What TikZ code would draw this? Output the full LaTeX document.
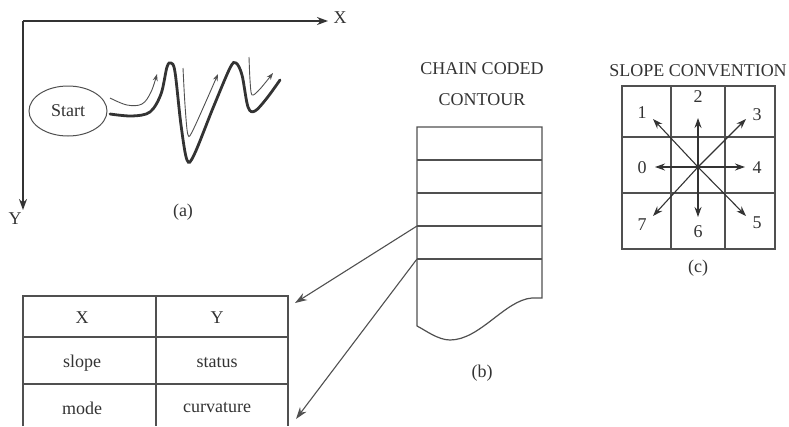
\documentclass[tikz,border=0pt]{standalone}
\usepackage{fontspec}
\setmainfont{Liberation Serif}
\usetikzlibrary{arrows.meta,shapes.geometric}
\definecolor{ink}{HTML}{333333}
\definecolor{linec}{HTML}{505050}
\tikzset{
  lbl/.style={inner sep=0pt, text=ink, font=\fontsize{18}{20}\selectfont},
  frame/.style={draw=linec, line width=1.2pt},
  bigarrow/.style={draw=ink, line width=1.4pt, -{Stealth[length=11pt,width=8pt]}},
  thinarrow/.style={draw=linec, line width=0.9pt, -{Stealth[length=7pt,width=5pt]}},
  conn/.style={draw=linec, line width=1.1pt, -{Stealth[length=12pt,width=8pt]}},
  sarrow/.style={draw=ink, line width=1.1pt, -{Stealth[length=10pt,width=7pt]}},
}
\begin{document}
\begin{tikzpicture}[x=1pt,y=-1pt]
\useasboundingbox (0,0) rectangle (789,426);
% ---------- (a) ----------
\coordinate (O) at (23,21);
\coordinate (Xend) at (328,21);
\coordinate (Yend) at (23,210);
\draw[bigarrow] (O) -- (Xend);
\draw[bigarrow] (O) -- (Yend);
\node[lbl] (xl) at (340,18) {X};
\node[lbl] (yl) at (15,219) {Y};
\node[draw=linec, line width=1pt, ellipse, minimum width=78pt, minimum height=50pt, inner sep=0pt, text=ink, font=\fontsize{18}{20}\selectfont] (start) at (68,111) {Start};
\draw[ink, line width=2.8pt, line cap=round] plot[smooth, tension=0.55] coordinates
  {(110,114) (132,116) (150,112) (161,94) (167,67) (171,63) (175,72) (181,125) (187,160) (194,155) (213,108) (230,68) (236,63) (242,75) (248,107) (255,111) (267,98) (280,80)};
\draw[thinarrow] plot[smooth, tension=0.6] coordinates {(110,98) (127,105) (142,104) (151,92) (157,74)};
\draw[thinarrow] plot[smooth, tension=0.5] coordinates {(183,68) (185,105) (188,135) (194,128) (218,74)};
\draw[thinarrow] plot[smooth, tension=0.5] coordinates {(249,57) (250,80) (252,95) (260,89) (273,73)};
\node[lbl] (capa) at (183,212) {(a)};
% ---------- (b) ----------
\node[lbl] (t1) at (482,69) {CHAIN CODED};
\node[lbl] (t2) at (482,100) {CONTOUR};
\coordinate (b1) at (417,160);
\coordinate (b2) at (417,193);
\coordinate (b3) at (417,226);
\coordinate (b4) at (417,259);
\draw[frame] (417,326) -- (417,127) -- (542,127) -- (542,298) -- (532,298)
  .. controls (505,300) and (480,340) .. (450,340) .. controls (438,340) and (425,330) .. (417,326);
\draw[frame] (b1) -- (542,160);
\draw[frame] (b2) -- (542,193);
\draw[frame] (b3) -- (542,226);
\draw[frame] (b4) -- (542,259);
\node[lbl] (capb) at (482,373) {(b)};
% ---------- table ----------
\draw[frame] (23,426) -- (23,296) -- (288,296) -- (288,426);
\draw[frame] (156,296) -- (156,426);
\draw[frame] (23,337) -- (288,337);
\draw[frame] (23,384) -- (288,384);
\node[lbl] (tx) at (82,318) {X};
\node[lbl] (ty) at (217,318) {Y};
\node[lbl] (ts) at (82,363) {slope};
\node[lbl] (tst) at (217,363) {status};
\node[lbl] (tm) at (82,408) {mode};
\node[lbl] (tc) at (217,408) {curvature};
\coordinate (a1) at (295,303);
\coordinate (a2) at (296,419);
\draw[conn] (b3) -- (a1);
\draw[conn] (b4) -- (a2);
% ---------- (c) ----------
\node[lbl] (t3) at (698,71) {SLOPE CONVENTION};
\draw[frame] (622,86) rectangle (775,249);
\draw[frame] (671,86) -- (671,249);
\draw[frame] (725,86) -- (725,249);
\draw[frame] (622,137) -- (775,137);
\draw[frame] (622,193) -- (775,193);
\coordinate (C) at (698,167);
\draw[sarrow] (C) -- (698,118);
\draw[sarrow] (C) -- (698,217);
\draw[sarrow] (C) -- (655,167);
\draw[sarrow] (C) -- (745,167);
\draw[sarrow] (C) -- (653,119);
\draw[sarrow] (C) -- (746,119);
\draw[sarrow] (C) -- (653,216);
\draw[sarrow] (C) -- (746,216);
\node[lbl] (n1) at (642,113) {1};
\node[lbl] (n2) at (698,97) {2};
\node[lbl] (n3) at (757,115) {3};
\node[lbl] (n0) at (642,168) {0};
\node[lbl] (n4) at (757,168) {4};
\node[lbl] (n7) at (642,225) {7};
\node[lbl] (n6) at (698,232) {6};
\node[lbl] (n5) at (757,223) {5};
\node[lbl] (capc) at (698,268) {(c)};
\end{tikzpicture}
\end{document}
